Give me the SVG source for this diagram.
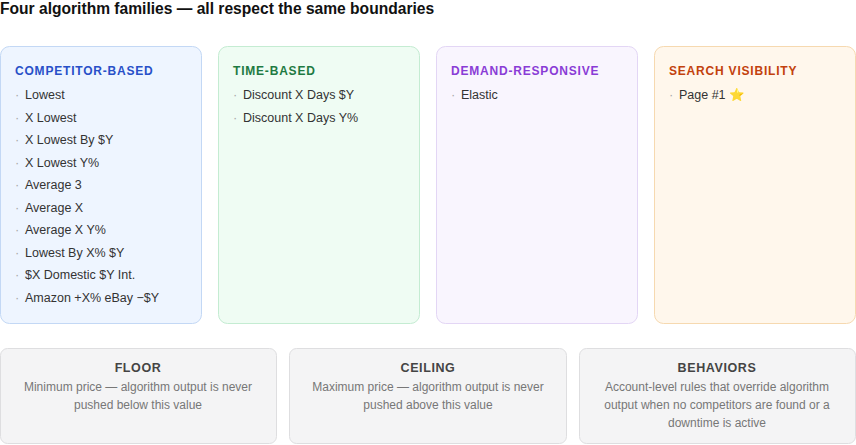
<svg xmlns="http://www.w3.org/2000/svg" width="856" height="445" viewBox="0 0 856 445">
<style>
text{font-family:"Liberation Sans",Arial,sans-serif}
.t{font-size:15.6px;font-weight:bold;fill:#111}
.h{font-size:12px;font-weight:bold;letter-spacing:0.8px}
.i{font-size:12.5px;fill:#333}
.b{font-size:13px;fill:#aaa}
.bh{font-size:12.5px;font-weight:bold;fill:#444;letter-spacing:0.6px;text-anchor:middle}
.bd{font-size:12px;fill:#777;text-anchor:middle}
.bx{fill:#f4f4f5;stroke:#dedee0}
</style>
<text class="t" x="0" y="14">Four algorithm families — all respect the same boundaries</text>
<g id="competitor">
<rect x="0.5" y="46.5" width="201" height="277" rx="9" fill="#eef5ff" stroke="#c3d8f5"/>
<text class="h" x="15" y="75" fill="#2850c8">COMPETITOR-BASED</text>
<g class="i">
<text x="25" y="99">Lowest</text><text x="25" y="122">X Lowest</text><text x="25" y="144">X Lowest By $Y</text><text x="25" y="167">X Lowest Y%</text><text x="25" y="189">Average 3</text><text x="25" y="212">Average X</text><text x="25" y="234">Average X Y%</text><text x="25" y="257">Lowest By X% $Y</text><text x="25" y="279">$X Domestic $Y Int.</text><text x="25" y="302">Amazon +X% eBay −$Y</text>
</g>
<g class="b"><text x="15" y="99">·</text><text x="15" y="122">·</text><text x="15" y="144">·</text><text x="15" y="167">·</text><text x="15" y="189">·</text><text x="15" y="212">·</text><text x="15" y="234">·</text><text x="15" y="257">·</text><text x="15" y="279">·</text><text x="15" y="302">·</text></g>
</g>
<g id="time">
<rect x="218.5" y="46.5" width="201" height="277" rx="9" fill="#effcf3" stroke="#c4ecd2"/>
<text class="h" x="233" y="75" fill="#1e7a42">TIME-BASED</text>
<text class="b" x="233" y="99">·</text><text class="i" x="243" y="99">Discount X Days $Y</text>
<text class="b" x="233" y="122">·</text><text class="i" x="243" y="122">Discount X Days Y%</text>
</g>
<g id="demand">
<rect x="436.5" y="46.5" width="201" height="277" rx="9" fill="#f9f5fe" stroke="#e3d6f5"/>
<text class="h" x="451" y="75" fill="#8a3cd6">DEMAND-RESPONSIVE</text>
<text class="b" x="451" y="99">·</text><text class="i" x="461" y="99">Elastic</text>
</g>
<g id="search">
<rect x="654.5" y="46.5" width="201" height="277" rx="9" fill="#fff7ec" stroke="#f6d9b0"/>
<text class="h" x="669" y="75" fill="#c2410c">SEARCH VISIBILITY</text>
<text class="b" x="669" y="99">·</text><text class="i" x="679" y="99">Page #1 <tspan fill="#f5b800">⭐</tspan></text>
</g>
<g id="floor">
<rect class="bx" x="0.5" y="348.5" width="276" height="95" rx="7"/>
<text class="bh" x="138" y="372">FLOOR</text>
<text class="bd" x="138" y="391">Minimum price — algorithm output is never</text>
<text class="bd" x="138" y="409">pushed below this value</text>
</g>
<g id="ceiling">
<rect class="bx" x="289.5" y="348.5" width="277" height="95" rx="7"/>
<text class="bh" x="428" y="372">CEILING</text>
<text class="bd" x="428" y="391">Maximum price — algorithm output is never</text>
<text class="bd" x="428" y="409">pushed above this value</text>
</g>
<g id="behaviors">
<rect class="bx" x="579.5" y="348.5" width="276" height="95" rx="7"/>
<text class="bh" x="717" y="372">BEHAVIORS</text>
<text class="bd" x="717" y="391">Account-level rules that override algorithm</text>
<text class="bd" x="717" y="409">output when no competitors are found or a</text>
<text class="bd" x="717" y="427">downtime is active</text>
</g>
<g id="connectors"/>
</svg>
